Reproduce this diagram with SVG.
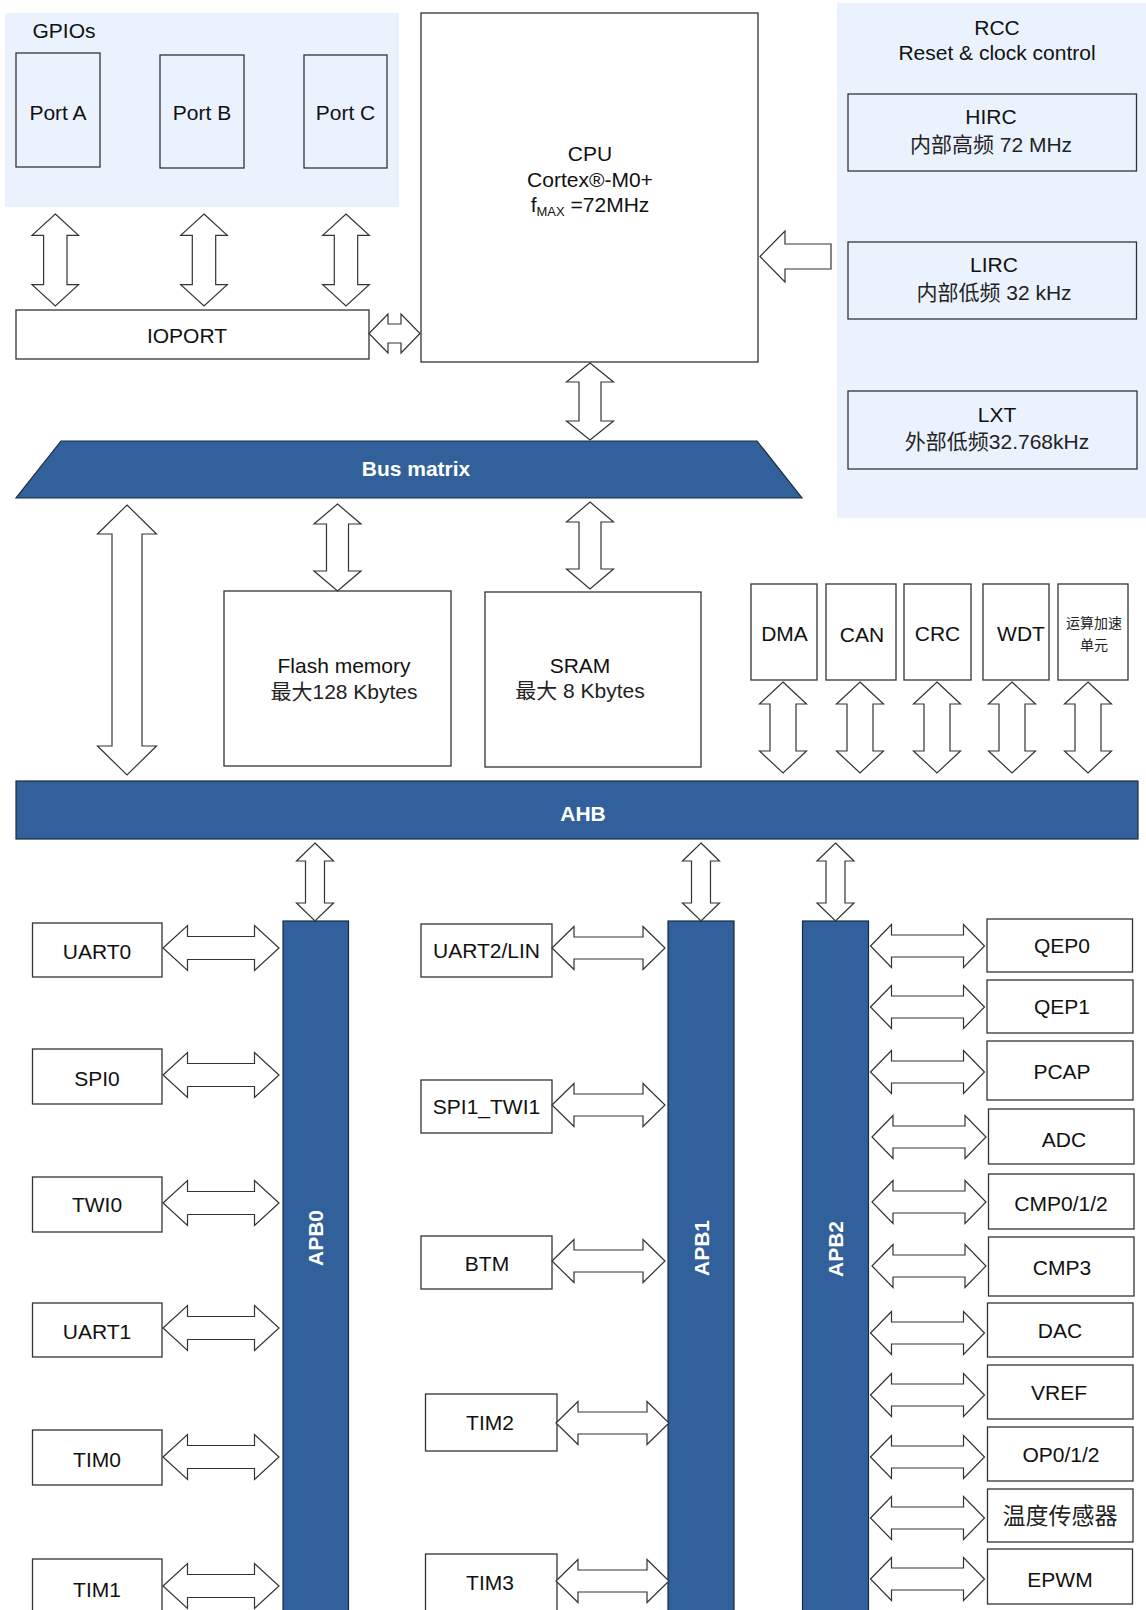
<svg xmlns="http://www.w3.org/2000/svg" width="1146" height="1610" viewBox="0 0 1146 1610">
<style>
.bg{fill:#EAF2FE;stroke:none}
.box{fill:none;stroke:#333;stroke-width:1.3}
.wbox{fill:#fff;stroke:#333;stroke-width:1.3}
.bus{fill:#31609B;stroke:#1a2a40;stroke-width:1.2}
.arr{fill:#fff;stroke:#333;stroke-width:1.2;stroke-linejoin:miter}
.t{font-family:"Liberation Sans",Arial,"Noto Sans CJK SC",sans-serif;font-size:21px;fill:#111;text-anchor:middle}
.tc{font-family:"Liberation Sans",Arial,"Noto Sans CJK SC",sans-serif;font-size:21px;fill:#222;text-anchor:middle}
.sm{font-size:14px}
.big{font-size:23px}
.b{font-family:"Liberation Sans",Arial,sans-serif;font-size:21px;font-weight:bold;fill:#fff;text-anchor:middle}
</style>
<defs>
<path id="vg" d="M0,0 L23.3,21.3 L11.7,21.3 L11.7,70.7 L23.3,70.7 L0,92 L-23.3,70.7 L-11.7,70.7 L-11.7,21.3 L-23.3,21.3Z"/>
<path id="vm" d="M0,0 L23.5,20 L11,20 L11,67 L23.5,67 L0,87 L-23.5,67 L-11,67 L-11,20 L-23.5,20Z"/>
<path id="vp" d="M0,0 L23.5,22 L13,22 L13,69 L23.5,69 L0,91 L-23.5,69 L-13,69 L-13,22 L-23.5,22Z"/>
<path id="va" d="M0,0 L18.5,18 L9.5,18 L9.5,60 L18.5,60 L0,78 L-18.5,60 L-9.5,60 L-9.5,18 L-18.5,18Z"/>
<path id="a0" d="M0,0 L24.5,-22.5 L24.5,-11.5 L91.5,-11.5 L91.5,-22.5 L116,0 L91.5,22.5 L91.5,11.5 L24.5,11.5 L24.5,22.5Z"/>
<path id="a1" d="M0,0 L22,-21.5 L22,-11 L91,-11 L91,-21.5 L113,0 L91,21.5 L91,11 L22,11 L22,21.5Z"/>
<path id="a2" d="M0,0 L21,-21.5 L21,-11 L93,-11 L93,-21.5 L114,0 L93,21.5 L93,11 L21,11 L21,21.5Z"/>
</defs>
<rect width="1146" height="1610" fill="#fff"/>

<!-- GPIOs -->
<g id="gpios">
<rect class="bg" x="5" y="13" width="394" height="194"/>
<text class="t" x="64" y="38">GPIOs</text>
</g>
<g id="portA"><rect class="box" x="16" y="53" width="84" height="114"/><text class="t" x="58" y="120">Port A</text></g>
<g id="portB"><rect class="box" x="160" y="55" width="84" height="113"/><text class="t" x="202" y="120">Port B</text></g>
<g id="portC"><rect class="box" x="304" y="55" width="83" height="113"/><text class="t" x="345.5" y="120">Port C</text></g>
<g id="ioport"><rect class="wbox" x="16" y="310" width="353" height="49"/><text class="t" x="187" y="343">IOPORT</text></g>

<!-- CPU -->
<g id="cpu">
<rect class="wbox" x="421" y="13" width="337" height="349"/>
<text class="t" x="590" y="161">CPU</text>
<text class="t" x="590" y="187">Cortex®-M0+</text>
<text class="t" x="590" y="212">f<tspan font-size="13" dy="4">MAX</tspan><tspan dy="-4"> =72MHz</tspan></text>
</g>

<!-- RCC -->
<g id="rcc">
<rect class="bg" x="837" y="3" width="309" height="515"/>
<text class="t" x="997" y="35">RCC</text>
<text class="t" x="997" y="60">Reset &amp; clock control</text>
</g>
<g id="hirc"><rect class="box" x="848" y="94" width="288.5" height="77"/><text class="t" x="991" y="124">HIRC</text><text class="tc" x="991" y="152">内部高频 72 MHz</text></g>
<g id="lirc"><rect class="box" x="848" y="242" width="288.5" height="77"/><text class="t" x="994" y="272">LIRC</text><text class="tc" x="994" y="300">内部低频 32 kHz</text></g>
<g id="lxt"><rect class="box" x="848" y="391" width="289" height="78"/><text class="t" x="997" y="422">LXT</text><text class="tc" x="997" y="449">外部低频32.768kHz</text></g>

<!-- Bus matrix -->
<g id="busmatrix">
<polygon class="bus" points="61,441 757,441 802,498 16,498"/>
<text class="b" x="416" y="476">Bus matrix</text>
</g>

<!-- memories -->
<g id="flash"><rect class="wbox" x="224" y="591" width="227" height="175"/><text class="t" x="344" y="673">Flash memory</text><text class="tc" x="344" y="699">最大128 Kbytes</text></g>
<g id="sram"><rect class="wbox" x="485" y="592" width="216" height="175"/><text class="t" x="580" y="673">SRAM</text><text class="tc" x="580" y="698">最大 8 Kbytes</text></g>

<!-- AHB peripherals -->
<g id="dma"><rect class="wbox" x="751" y="584" width="66" height="96"/><text class="t" x="784.5" y="641">DMA</text></g>
<g id="can"><rect class="wbox" x="826" y="584" width="70" height="96"/><text class="t" x="862" y="642">CAN</text></g>
<g id="crc"><rect class="wbox" x="904" y="584" width="67" height="96"/><text class="t" x="937.5" y="641">CRC</text></g>
<g id="wdt"><rect class="wbox" x="983" y="584" width="66" height="96"/><text class="t" x="1021" y="641">WDT</text></g>
<g id="acc"><rect class="wbox" x="1058" y="584" width="70" height="96"/><text class="tc sm" x="1094" y="628">运算加速</text><text class="tc sm" x="1094" y="650">单元</text></g>

<!-- AHB -->
<g id="ahb"><rect class="bus" x="16" y="781" width="1122" height="58"/><text class="b" x="583" y="821">AHB</text></g>

<!-- APB bars -->
<g id="apb0"><rect class="bus" x="283" y="921" width="65.5" height="700"/><text class="b" transform="translate(322.5,1238) rotate(-90)">APB0</text></g>
<g id="apb1"><rect class="bus" x="668" y="921" width="66" height="700"/><text class="b" transform="translate(708.5,1248) rotate(-90)">APB1</text></g>
<g id="apb2"><rect class="bus" x="802.5" y="921" width="66" height="700"/><text class="b" transform="translate(842.5,1249) rotate(-90)">APB2</text></g>

<!-- APB0 peripherals -->
<g id="uart0"><rect class="wbox" x="32.5" y="923" width="129.5" height="54"/><text class="t" x="97" y="959">UART0</text></g>
<g id="spi0"><rect class="wbox" x="32.5" y="1049" width="129.5" height="55"/><text class="t" x="97" y="1086">SPI0</text></g>
<g id="twi0"><rect class="wbox" x="32.5" y="1177" width="129.5" height="55"/><text class="t" x="97" y="1212">TWI0</text></g>
<g id="uart1"><rect class="wbox" x="32.5" y="1303" width="129.5" height="54"/><text class="t" x="97" y="1339">UART1</text></g>
<g id="tim0"><rect class="wbox" x="32.5" y="1430" width="129.5" height="55"/><text class="t" x="97" y="1467">TIM0</text></g>
<g id="tim1"><rect class="wbox" x="32.5" y="1559" width="129.5" height="60"/><text class="t" x="97" y="1597">TIM1</text></g>

<!-- APB1 peripherals -->
<g id="uart2"><rect class="wbox" x="421" y="924" width="131" height="53"/><text class="t" x="486.5" y="958">UART2/LIN</text></g>
<g id="spi1"><rect class="wbox" x="421" y="1080" width="131" height="53"/><text class="t" x="486.5" y="1114">SPI1_TWI1</text></g>
<g id="btm"><rect class="wbox" x="421" y="1236" width="131" height="53"/><text class="t" x="487" y="1271">BTM</text></g>
<g id="tim2"><rect class="wbox" x="425.5" y="1394" width="131.5" height="57"/><text class="t" x="490" y="1430">TIM2</text></g>
<g id="tim3"><rect class="wbox" x="425.5" y="1554" width="131.5" height="60"/><text class="t" x="490" y="1590">TIM3</text></g>

<!-- APB2 peripherals -->
<g id="qep0"><rect class="wbox" x="987" y="919" width="145.5" height="53"/><text class="t" x="1062" y="953">QEP0</text></g>
<g id="qep1"><rect class="wbox" x="987" y="980" width="146" height="53"/><text class="t" x="1062" y="1014">QEP1</text></g>
<g id="pcap"><rect class="wbox" x="987" y="1041" width="146" height="59"/><text class="t" x="1062" y="1079">PCAP</text></g>
<g id="adc"><rect class="wbox" x="988.5" y="1109" width="145.5" height="55"/><text class="t" x="1064" y="1147">ADC</text></g>
<g id="cmp012"><rect class="wbox" x="988.5" y="1174" width="145.5" height="55"/><text class="t" x="1061" y="1211">CMP0/1/2</text></g>
<g id="cmp3"><rect class="wbox" x="988.5" y="1237" width="145.5" height="59"/><text class="t" x="1062" y="1275">CMP3</text></g>
<g id="dac"><rect class="wbox" x="987.5" y="1303" width="145.5" height="54"/><text class="t" x="1060" y="1338">DAC</text></g>
<g id="vref"><rect class="wbox" x="987.5" y="1365" width="145.5" height="54"/><text class="t" x="1059" y="1400">VREF</text></g>
<g id="op012"><rect class="wbox" x="987.5" y="1427" width="145.5" height="54"/><text class="t" x="1061" y="1462">OP0/1/2</text></g>
<g id="temp"><rect class="wbox" x="987.5" y="1489" width="145.5" height="53"/><text class="tc big" x="1060" y="1524">温度传感器</text></g>
<g id="epwm"><rect class="wbox" x="987.5" y="1549" width="145" height="55"/><text class="t" x="1060" y="1587">EPWM</text></g>

<!-- connectors -->
<g id="connectors" class="arr">
<use href="#vg" x="55.3" y="214"/>
<use href="#vg" x="204" y="214"/>
<use href="#vg" x="346" y="214"/>
<polygon points="369,333.5 388,314 388,324 401,324 401,314 420,333.5 401,353 401,343 388,343 388,353"/>
<polygon points="760,256.5 785,231 785,244 831,244 831,269 785,269 785,282"/>
<polygon points="590,363 613.5,382 601,382 601,421 613.5,421 590,440 566.5,421 579,421 579,382 566.5,382"/>
<polygon points="127,505 156.5,534 142,534 142,746 156.5,746 127,775 97.5,746 112,746 112,534 97.5,534"/>
<use href="#vm" x="337.5" y="504"/>
<use href="#vm" x="590" y="502"/>
<use href="#vp" x="783" y="682"/>
<use href="#vp" x="860" y="682"/>
<use href="#vp" x="937" y="682"/>
<use href="#vp" x="1012" y="682"/>
<use href="#vp" x="1088" y="682"/>
<use href="#va" x="315" y="843"/>
<use href="#va" x="701" y="843"/>
<use href="#va" x="835.5" y="843"/>
<use href="#a0" x="163" y="948"/>
<use href="#a0" x="163" y="1075"/>
<use href="#a0" x="163" y="1203"/>
<use href="#a0" x="163" y="1328"/>
<use href="#a0" x="163" y="1457"/>
<use href="#a0" x="163" y="1586"/>
<use href="#a1" x="552" y="948"/>
<use href="#a1" x="552" y="1105"/>
<use href="#a1" x="552" y="1261"/>
<use href="#a1" x="556" y="1423"/>
<use href="#a1" x="556" y="1581"/>
<use href="#a2" x="870.5" y="946"/>
<use href="#a2" x="870.5" y="1007"/>
<use href="#a2" x="870.5" y="1072"/>
<use href="#a2" x="872" y="1137"/>
<use href="#a2" x="872" y="1202"/>
<use href="#a2" x="872" y="1266"/>
<use href="#a2" x="870.5" y="1333"/>
<use href="#a2" x="870.5" y="1395"/>
<use href="#a2" x="870.5" y="1457"/>
<use href="#a2" x="870.5" y="1518"/>
<use href="#a2" x="870.5" y="1579"/>
</g>
</svg>
